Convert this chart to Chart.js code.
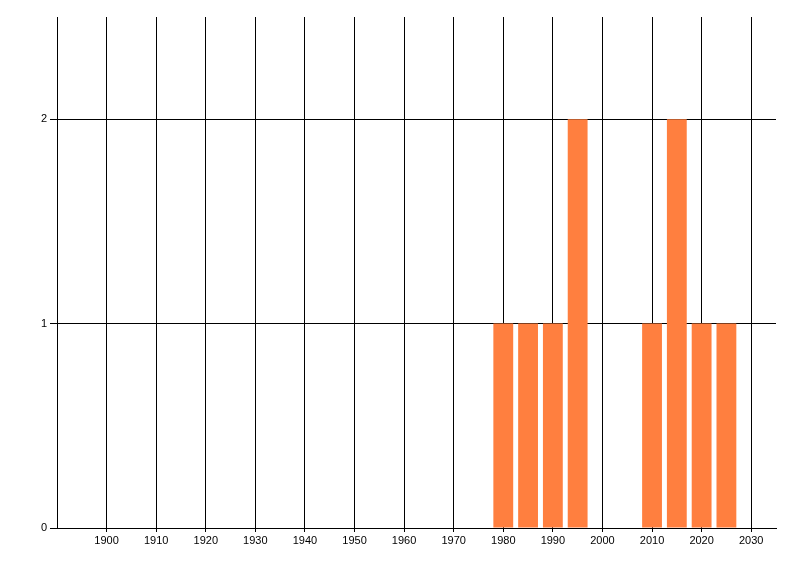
<!DOCTYPE html>
<html>
<head>
<meta charset="utf-8">
<script src="https://cdn.jsdelivr.net/npm/chart.js@4/dist/chart.umd.min.js"></script>
<style>
  html, body { margin: 0; padding: 0; background: #ffffff; }
  #wrap { width: 800px; height: 576px; }
</style>
</head>
<body>
<div id="wrap"><canvas id="chart" width="800" height="576"></canvas></div>
<script>
const years = [1980, 1985, 1990, 1995, 2010, 2015, 2020, 2025];
const counts = [1, 1, 1, 2, 1, 2, 1, 1];
const xTickValues = [1900, 1910, 1920, 1930, 1940, 1950, 1960, 1970, 1980, 1990, 2000, 2010, 2020, 2030];
const yTickValues = [0, 1, 2];

const barColor = "#ff7f3f";
const lineColor = "#000000";
const font = { family: "'Liberation Sans', Arial, sans-serif", size: 11 };

new Chart(document.getElementById("chart"), {
  type: "bar",
  data: {
    datasets: [
      {
        data: years.map((year, i) => ({ x: year, y: counts[i] })),
        backgroundColor: barColor,
        borderWidth: 0,
        barPercentage: 1,
        categoryPercentage: 0.8,
      },
    ],
  },
  options: {
    responsive: false,
    animation: false,
    layout: { padding: { top: 17, right: 24, left: 0, bottom: 0 } },
    plugins: {
      legend: { display: false },
      tooltip: { enabled: false },
    },
    scales: {
      x: {
        type: "linear",
        min: 1890,
        max: 2035,
        offset: false,
        afterBuildTicks(scale) {
          scale.ticks = xTickValues.map((value) => ({ value }));
        },
        afterFit(scale) {
          scale.height = 48;
        },
        grid: {
          color: lineColor,
          lineWidth: 1,
          tickLength: 4,
          offset: false,
        },
        border: { color: lineColor, width: 1 },
        ticks: {
          color: "#000000",
          font,
          padding: 2,
          maxRotation: 0,
          autoSkip: false,
          callback: (value) => String(value),
        },
      },
      y: {
        min: 0,
        max: 2.5,
        afterBuildTicks(scale) {
          scale.ticks = yTickValues.map((value) => ({ value }));
        },
        afterFit(scale) {
          scale.width = 57;
        },
        grid: {
          color: lineColor,
          lineWidth: 1,
          tickLength: 7,
        },
        border: { color: lineColor, width: 1 },
        ticks: {
          color: "#000000",
          font,
          padding: 3,
          callback: (value) => String(value),
        },
      },
    },
  },
});
</script>
</body>
</html>
